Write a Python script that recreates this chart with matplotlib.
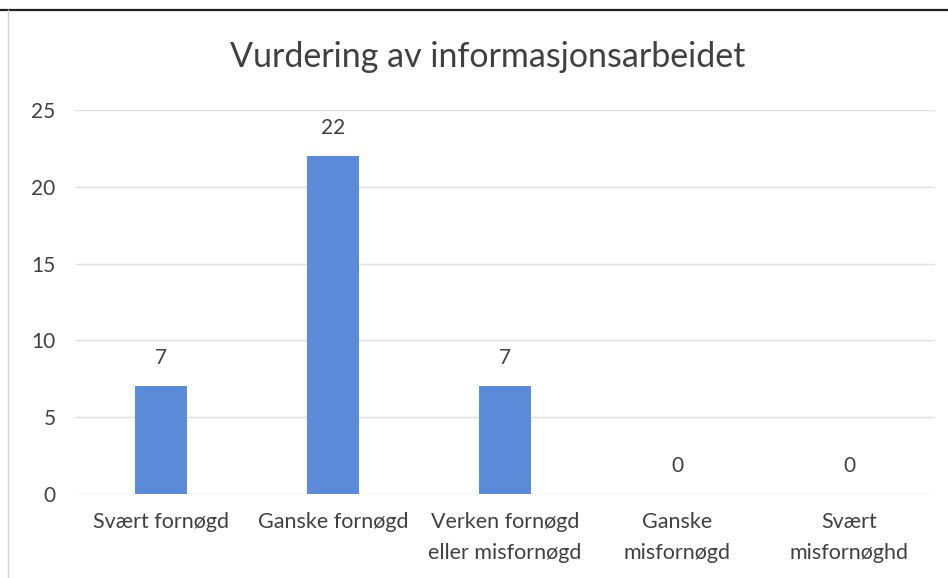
import matplotlib
matplotlib.use("Agg")
import matplotlib.pyplot as plt
from matplotlib.lines import Line2D

categories = ["Svært fornøgd", "Ganske fornøgd", "Verken fornøgd\neller misfornøgd",
              "Ganske\nmisfornøgd", "Svært\nmisfornøghd"]
values = [7, 22, 7, 0, 0]
yticks = [0, 5, 10, 15, 20, 25]
title = "Vurdering av informasjonsarbeidet"

plt.rcParams['font.family'] = ['Lato', 'DejaVu Sans']

fig = plt.figure(figsize=(9.48, 5.78), dpi=100)
ax = fig.add_axes([75/948, 1-494/578, 860/948, 384/578])

x = list(range(len(categories)))
bars = ax.bar(x, values, width=0.30, color="#5b8bd9", zorder=3)
for xi, v in zip(x, values):
    ax.annotate(str(v), (xi, v), xytext=(0, 13), textcoords="offset points",
                ha="center", va="bottom", fontsize=15, color="#404040")

ax.set_xlim(-0.5, len(categories) - 0.5)
ax.set_ylim(0, 25)
ax.set_yticks(yticks)
ax.set_xticks(x)
ax.set_xticklabels(categories, fontsize=15.5, color="#404040", linespacing=1.7)
ax.set_yticklabels([str(t) for t in yticks], fontsize=15, color="#404040")
ax.tick_params(axis="both", length=0)
ax.tick_params(axis="y", pad=14)
ax.tick_params(axis="x", pad=13)
ax.grid(axis="y", color="#e0e0e0", linewidth=1, zorder=0)
for s in ax.spines.values():
    s.set_visible(False)

fig.text(488/948, 1-57/578, title, ha="center", va="center", fontsize=24.5,
         color="#404040", fontweight="normal")

fig.add_artist(Line2D([0, 1], [1-10/578, 1-10/578], color="#202020", linewidth=1.6,
                      transform=fig.transFigure))
fig.add_artist(Line2D([8/948, 8/948], [0, 1-10/578], color="#d0d0d0", linewidth=1,
                      transform=fig.transFigure))

fig.savefig("out.png", dpi=100, facecolor="white")
